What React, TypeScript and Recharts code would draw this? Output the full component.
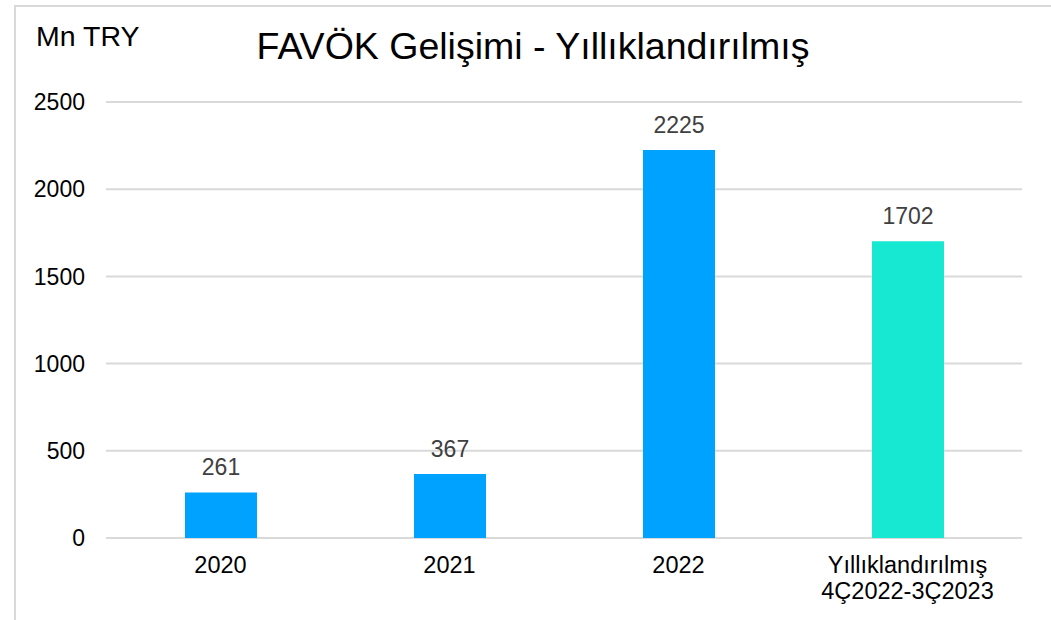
import React from "react";
import { BarChart, Bar, XAxis, YAxis, CartesianGrid, LabelList, Cell } from "recharts";

const categories = ["2020", "2021", "2022", "Yıllıklandırılmış\n4Ç2022-3Ç2023"];
const values = [261, 367, 2225, 1702];
const barColors = ["#00A2FF", "#00A2FF", "#00A2FF", "#17E8D2"];
const yTicks = [0, 500, 1000, 1500, 2000, 2500];
const titleText = "FAVÖK Gelişimi - Yıllıklandırılmış";
const unitText = "Mn TRY";

const data = categories.map((c, i) => ({ name: c, value: values[i] }));

const FONT = "'Liberation Sans', Arial, sans-serif";

const XTick = (props: any) => {
  const { x, y, payload } = props;
  const lines = String(payload.value).split("\n");
  return (
    <g transform={`translate(${x},${y})`}>
      {lines.map((l, i) => (
        <text key={i} x={0} y={0} dy={27 + i * 26} textAnchor="middle" fill="#000" fontSize={23.5} fontFamily={FONT}>
          {l}
        </text>
      ))}
    </g>
  );
};

export default function App() {
  return (
    <div style={{ position: "absolute", left: 0, top: 0, width: 1051, height: 620, background: "#fff", overflow: "hidden", fontFamily: FONT }}>
      <div style={{ position: "absolute", left: 14, top: 5, width: 1100, height: 700, borderTop: "2px solid #d9d9d9", borderLeft: "2px solid #d9d9d9" }} />
      <svg style={{ position: "absolute", left: 0, top: 0 }} width={1051} height={620}>
        <text x={36} y={46} fontSize={28.5} fontFamily={FONT} fill="#000">{unitText}</text>
        <text x={533} y={59} fontSize={37.5} fontFamily={FONT} fill="#000" textAnchor="middle">{titleText}</text>
      </svg>
      <div style={{ position: "absolute", left: 0, top: 0 }}>
        <BarChart width={1051} height={620} data={data} margin={{ top: 102, right: 29, left: 0, bottom: 52 }} barSize={72}>
          <CartesianGrid vertical={false} stroke="#d9d9d9" strokeWidth={2} />
          <XAxis dataKey="name" axisLine={false} tickLine={false} tick={<XTick />} interval={0} />
          <YAxis
            width={106}
            domain={[0, 2500]}
            ticks={yTicks}
            axisLine={false}
            tickLine={false}
            tickSize={0}
            tickMargin={21}
            tick={{ fill: "#000", fontSize: 23, fontFamily: FONT }}
          />
          <Bar dataKey="value" isAnimationActive={false}>
            {data.map((d, i) => (
              <Cell key={i} fill={barColors[i]} />
            ))}
            <LabelList dataKey="value" position="top" offset={17} fill="#404040" fontSize={23} fontFamily={FONT} />
          </Bar>
        </BarChart>
      </div>
    </div>
  );
}
